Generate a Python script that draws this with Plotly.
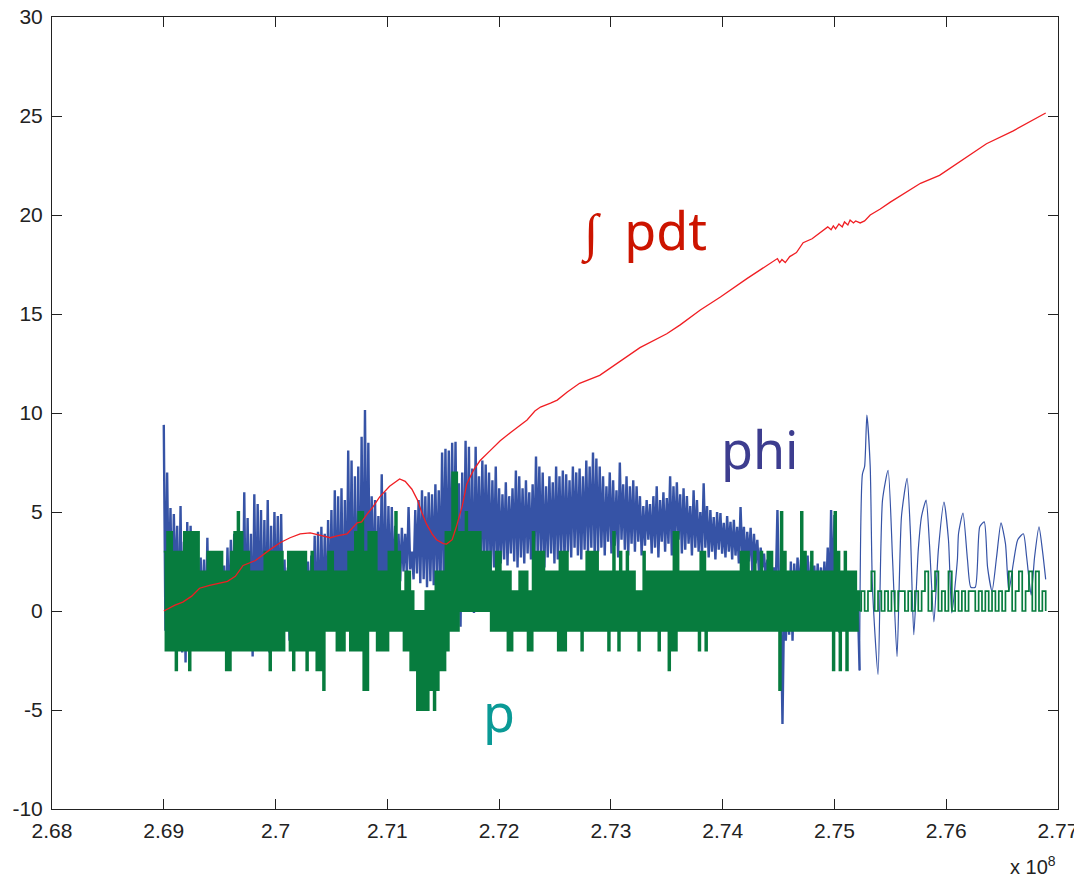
import plotly.graph_objects as go

# ---------------- data (time in units of 1e8) ----------------
T0 = 2.69          # first sample time
DT = 0.0003        # sampling step

# phi: alternating local maxima / minima of the dense part
phi_hi = [9.4, 7.0, 5.2, 4.9, 4.3, 5.3, 3.5, 4.5, 4.3, 2.5,
          2.2, 2.7, 2.6, 3.7, 3.0, 2.4, 3.0, 2.4, 2.3, 3.2,
          3.6, 3.9, 3.3, 3.5, 6.0, 4.7, 3.9, 5.9, 5.4, 5.1,
          4.6, 5.6, 4.3, 5.0, 4.8, 4.9, 2.6, 2.2, 2.4, 2.1,
          2.3, 2.4, 2.6, 2.5, 2.8, 3.8, 4.0, 4.25, 3.9, 4.6,
          5.1, 6.1, 5.8, 6.2, 5.6, 8.1, 7.6, 6.8, 7.3, 8.8,
          10.15, 8.5, 5.8, 5.6, 4.8, 6.9, 6.0, 5.3, 5.25, 4.3,
          3.9, 4.2, 3.9, 5.25, 3.0, 5.1, 5.6, 6.1, 5.8, 6.0,
          5.9, 6.4, 6.1, 8.0, 8.2, 8.1, 8.5, 8.55, 6.45, 7.0,
          8.6, 8.3, 7.2, 8.3, 6.8, 7.6, 7.4, 7.0, 6.6, 7.3,
          6.2, 5.9, 6.5, 5.8, 6.2, 7.1, 6.8, 6.2, 6.6, 6.0,
          6.4, 7.8, 7.3, 7.0, 6.3, 6.8, 6.5, 7.3, 6.8, 7.1,
          6.9, 6.6, 7.3, 7.0, 7.2, 6.8, 7.6, 7.3, 8.0, 7.7,
          7.3, 6.8, 6.3, 7.0, 6.6, 6.1, 7.5, 6.4, 6.8, 6.3,
          6.6, 6.3, 5.8, 5.3, 5.6, 5.4, 5.8, 6.3, 5.6, 6.0,
          5.7, 6.8, 6.3, 6.5, 5.9, 6.2, 5.8, 5.3, 6.1, 5.6,
          5.0, 6.45, 5.3, 5.1, 4.75, 5.0, 4.95, 4.45, 4.8, 4.5,
          4.6, 4.25, 5.25, 4.25, 4.0, 4.2, 3.9, 3.6, 3.2, 2.9,
          2.6, 2.4, 2.2, 5.1, 0.5, 0.5, 1.0, 2.5, 2.4, 2.7,
          2.6, 2.7, 2.8, 2.5, 2.3, 2.4, 2.2, 2.5, 3.2, 5.1,
          4.85, 1.5, 0.8, 0.5, 0.5, 0.9, 0.6, 0.3]
phi_lo = [-1.0, 0.5, -0.5, 1.0, -1.5, -2.1, -2.6, -1.0, 0.0, -0.5,
          -1.1, -0.5, -1.5, -1.5, -0.8, -0.5, -1.0, -1.3, -0.8, -0.5,
          -1.0, -0.7, -1.2, -2.0, -1.5, -1.0, -2.3, -1.2, -1.0, -1.8,
          -1.5, -2.1, -1.0, -0.5, -1.2, -0.8, -1.0, -1.5, -0.8, -1.2,
          -2.0, -1.0, -1.5, -0.8, -1.0, -1.2, -1.5, -0.8, -1.0, -0.5,
          -1.0, -0.8, -1.2, -1.6, -1.0, -0.5, -1.5, -2.0, -1.8, -1.0,
          -0.5, 0.0, 0.3, 0.0, 0.4, -0.8, 0.2, 0.5, 0.8, 1.0,
          1.5, 2.0, 1.8, 2.1, 1.6, 1.9, 1.4, 1.6, 1.2, 1.5,
          1.3, 1.6, 1.0, 1.4, 1.1, 0.9, 1.2, 1.0, -0.8, 0.8,
          1.2, 0.3, -0.1, 1.9, 2.2, 2.0, 2.4, 1.9, 2.2, 2.0,
          2.4, 2.6, 2.3, 2.9, 2.5, 2.2, 2.7, 2.4, 2.9, 2.6,
          2.3, 2.8, 2.5, 2.2, 2.7, 2.9, 2.4, 2.6, 2.8, 2.5,
          3.0, 2.7, 3.2, 2.8, 2.6, 3.1, 2.9, 3.2, 2.7, 3.0,
          3.2, 2.8, 3.5, 2.9, 3.3, 2.7, 3.6, 3.1, 2.8, 3.4,
          3.0, 3.5, 2.8, 3.3, 3.6, 2.9, 3.2, 2.7, 3.5, 3.0,
          3.4, 2.8, 3.3, 3.6, 2.9, 3.1, 3.4, 2.8, 3.2, 3.0,
          2.8, 3.2, 2.7, 3.0, 2.6, 3.1, 2.9, 2.7, 3.0, 2.6,
          2.8, 2.4, 2.7, 2.2, 2.5, 2.0, 2.4, 1.9, 2.2, 1.6,
          1.9, 1.4, 1.2, 1.0, -5.7, -1.5, -1.2, -1.5, 0.5, 0.8,
          0.2, 0.6, 0.3, 0.9, 0.4, 0.7, 0.2, 0.6, 0.4, 0.3,
          -0.5, -1.1, -0.5, -1.0, -0.3, -0.8, -0.5, -3.0]

# phi: slow oscillation at the end
phi_tail_t = [2.7525, 2.7527, 2.7529, 2.7532, 2.7534, 2.7539, 2.7543, 2.7548, 2.7552, 2.7556,
              2.7560, 2.7565, 2.7568, 2.7571, 2.7575, 2.7578, 2.7582, 2.7585, 2.7589, 2.7593,
              2.7598, 2.7602, 2.7605, 2.7610, 2.7611, 2.7615, 2.7619, 2.7622, 2.7626, 2.7630,
              2.7634, 2.7637, 2.7641, 2.7645, 2.7649, 2.7653, 2.7656, 2.7660, 2.7664, 2.7669,
              2.7672, 2.7676, 2.7679, 2.7683, 2.7686, 2.7689]
phi_tail = [6.9, 7.3, 9.9, 7.3, 1.2, -3.2, 5.6, 7.1, 2.6, -2.3,
            4.8, 6.7, 3.9, -1.2, 3.1, 4.8, 5.6, 3.4, -0.55, 3.1,
            5.5, 3.6, -0.1, 2.6, 3.9, 4.95, 2.6, 1.2, 1.2, 4.25,
            4.5, 2.2, 1.0, 2.7, 4.45, 3.4, 1.0, 2.4, 3.6, 3.9,
            2.7, 0.8, 2.7, 4.25, 3.1, 1.6]

# p: integer signal, alternating local maxima / minima (dense part)
p_hi = [3, 4, 4, 3, 3, 3, 4, 4, 4, 4,
        4, 2, 2, 3, 3, 3, 3, 3, 2, 2,
        3, 4, 5, 4, 3, 3, 2, 2, 2, 2,
        3, 3, 3, 3, 3, 3, 2, 3, 3, 3,
        3, 3, 3, 2, 3, 2, 2, 2, 2, 3,
        3, 2, 2, 2, 2, 3, 3, 4, 5, 5,
        3, 4, 4, 4, 2, 2, 2, 3, 3, 5,
        3, 1, 2, 2, 1, 0, 0, 0, 1, 1,
        1, 2, 2, 2, 4, 4, 7, 7, 4, 4,
        5, 4, 4, 4, 4, 3, 3, 3, 2, 3,
        3, 2, 2, 2, 1, 1, 2, 2, 2, 1,
        4, 3, 3, 3, 2, 2, 2, 2, 3, 3,
        3, 2, 2, 2, 2, 2, 3, 3, 3, 3,
        2, 2, 2, 2, 4, 2, 3, 2, 3, 2,
        2, 1, 1, 3, 2, 2, 2, 2, 2, 2,
        2, 2, 4, 4, 2, 2, 2, 2, 2, 2,
        3, 3, 2, 2, 2, 2, 2, 2, 2, 2,
        2, 2, 3, 3, 3, 2, 3, 2, 3, 2,
        3, 3, 2, 2, 5, 3, 2, 2, 2, 2,
        5, 3, 2, 3, 2, 2, 2, 2, 2, 2,
        5, 3, 2, 3, 2, 2, 2, 1]
p_lo = [-2, -2, -2, -3, -2, -2, -2, -3, -2, -2,
        -2, -2, -2, -2, -2, -2, -2, -2, -3, -3,
        -2, -2, -2, -2, -2, -2, -2, -2, -2, -2,
        -2, -3, -2, -2, -2, -2, -1, -2, -3, -2,
        -2, -2, -3, -2, -2, -3, -3, -4, -1, -1,
        -1, -2, -2, -2, -1, -2, -2, -2, -2, -4,
        -4, -1, -1, -2, -2, -2, -2, -1, -1, -1,
        -1, -2, -2, -3, -3, -5, -5, -5, -5, -4,
        -5, -4, -3, -3, -2, -1, -1, -1, 0, 0,
        0, 0, 0, 0, 0, 0, 0, -1, -1, -1,
        -1, -1, -2, -2, -1, -1, -1, -1, -2, -2,
        -1, -1, -1, -1, -1, -1, -1, -2, -2, -2,
        -1, -1, -1, -1, -2, -1, -1, -1, -1, -1,
        -1, -1, -2, -1, -1, -2, -1, -1, -1, -1,
        -1, -2, -1, -1, -1, -1, -1, -2, -1, -1,
        -3, -2, -2, -1, -1, -1, -1, -1, -1, -2,
        -1, -2, -1, -1, -1, -1, -1, -1, -1, -1,
        -1, -1, -1, -1, -1, -1, -1, -1, -1, -1,
        -1, -1, -1, -4, -1, -1, -1, -1, -1, -1,
        -1, -1, -1, -1, -1, -1, -1, -1, -1, -3,
        -1, -3, -1, -3, -1, -1, -1, 0]

# p: square-wave tail (one value per step)
p_tail = [1, 0, 1, 2, 0, 1, 0, 1, 0, 1,
          0, 1, 1, 0, 1, 0, 1, 0, 1, 2,
          0, 1, 2, 0, 1, 0, 2, 0, 1, 0,
          1, 0, 1, 1, 0, 1, 0, 1, 0, 1,
          0, 1, 0, 1, 2, 0, 1, 2, 0, 1,
          2, 0, 2, 0, 1, 0]

# integral of p
int_t = [2.6900, 2.6910, 2.6917, 2.6925, 2.6932, 2.6941, 2.6957, 2.6964, 2.6971, 2.6982,
         2.6995, 2.7004, 2.7013, 2.7022, 2.7031, 2.7038, 2.7042, 2.7049, 2.7055, 2.7064,
         2.7073, 2.7077, 2.7082, 2.7087, 2.7093, 2.7102, 2.7111, 2.7116, 2.7122, 2.7127,
         2.7131, 2.7135, 2.7140, 2.7144, 2.7150, 2.7153, 2.7158, 2.7162, 2.7167, 2.7171,
         2.7177, 2.7183, 2.7192, 2.7201, 2.7210, 2.7219, 2.7225, 2.7232, 2.7237, 2.7246,
         2.7252, 2.7261, 2.7272, 2.7290, 2.7305, 2.7326, 2.7350, 2.7362, 2.7380, 2.7398,
         2.7422, 2.7442, 2.7449, 2.7451, 2.7453, 2.7456, 2.7460, 2.7466, 2.7472, 2.7480,
         2.7490, 2.7494, 2.7497, 2.7499, 2.7501, 2.7504, 2.7507, 2.7509, 2.7512, 2.7514,
         2.7517, 2.7519, 2.7523, 2.7527, 2.7532, 2.7541, 2.7550, 2.7565, 2.7577, 2.7594,
         2.7621, 2.7636, 2.7660, 2.7675, 2.7689]
int_p = [0.0, 0.3, 0.45, 0.75, 1.15, 1.3, 1.5, 1.75, 2.3, 2.55,
         3.1, 3.45, 3.7, 3.9, 3.95, 3.85, 3.8, 3.7, 3.8, 3.9,
         4.45, 4.5, 4.9, 5.25, 5.75, 6.3, 6.67, 6.55, 6.15, 5.6,
         4.95, 4.4, 3.9, 3.6, 3.4, 3.38, 3.6, 4.3, 5.3, 6.4,
         7.1, 7.6, 8.1, 8.6, 9.0, 9.4, 9.65, 10.1, 10.3, 10.5,
         10.65, 11.06, 11.5, 11.9, 12.5, 13.3, 14.0, 14.45, 15.2, 15.86,
         16.8, 17.57, 17.8, 17.6, 17.75, 17.6, 17.9, 18.1, 18.6, 18.8,
         19.25, 19.4, 19.25, 19.45, 19.3, 19.55, 19.4, 19.65, 19.5, 19.75,
         19.6, 19.7, 19.6, 19.7, 20.0, 20.3, 20.65, 21.2, 21.6, 22.0,
         23.0, 23.6, 24.25, 24.7, 25.15]

x_ticks = [2.68, 2.69, 2.70, 2.71, 2.72, 2.73, 2.74, 2.75, 2.76, 2.77]
x_tick_text = ["2.68", "2.69", "2.7", "2.71", "2.72", "2.73", "2.74", "2.75", "2.76", "2.77"]
y_ticks = [-10, -5, 0, 5, 10, 15, 20, 25, 30]
y_tick_text = ["-10", "-5", "0", "5", "10", "15", "20", "25", "30"]

# ---------------- build series ----------------
def interleave(hi, lo):
    t, v = [], []
    for i, (a, b) in enumerate(zip(hi, lo)):
        t += [T0 + DT * i, T0 + DT * i + DT / 2]
        v += [a, b]
    return t, v

phi_t, phi_v = interleave(phi_hi, phi_lo)
p_t, p_v = interleave(p_hi, p_lo)
tail_start = T0 + DT * len(p_hi)
p_tail_t = [tail_start + DT * k for k in range(len(p_tail))]

BLUE = "#3653a6"
GREEN = "#077c3e"
RED = "#f01e23"

fig = go.Figure()
fig.add_trace(go.Scatter(x=phi_t, y=phi_v, mode="lines",
                         line=dict(color=BLUE, width=2.4), hoverinfo="skip"))
fig.add_trace(go.Scatter(x=[phi_t[-1]] + phi_tail_t, y=[phi_v[-1]] + phi_tail, mode="lines",
                         line=dict(color=BLUE, width=1.2, shape="spline", smoothing=0.6),
                         hoverinfo="skip"))
fig.add_trace(go.Scatter(x=p_t, y=p_v, mode="lines",
                         line=dict(color=GREEN, width=1.8, shape="hv"), hoverinfo="skip"))
fig.add_trace(go.Scatter(x=[p_t[-1]] + p_tail_t, y=[p_v[-1]] + p_tail, mode="lines",
                         line=dict(color=GREEN, width=1.7, shape="hv"), hoverinfo="skip"))
fig.add_trace(go.Scatter(x=int_t, y=int_p, mode="lines",
                         line=dict(color=RED, width=1.3), hoverinfo="skip"))

LABEL_FONT = "Noto Sans"
fig.add_annotation(x=2.7330, y=19.25, text="\u222b\u2002pdt", showarrow=False,
                   font=dict(family=LABEL_FONT, size=52, color="#cc1400"))
fig.add_annotation(x=2.7433, y=8.2, text="phi", showarrow=False,
                   font=dict(family=LABEL_FONT, size=52, color="#3d3d8f"))
fig.add_annotation(x=2.7200, y=-5.1, text="p", showarrow=False,
                   font=dict(family=LABEL_FONT, size=52, color="#0a9a96"))
fig.add_annotation(x=1.0, y=-0.071, xref="paper", yref="paper",
                   xanchor="right", yanchor="middle", showarrow=False,
                   text="x 10<sup>8</sup>",
                   font=dict(family="Liberation Sans", size=20, color="#222222"))

axis_common = dict(showline=True, linecolor="#222222", linewidth=1, mirror="ticks",
                   ticks="inside", ticklen=10, tickcolor="#222222", tickwidth=1,
                   showgrid=False, zeroline=False, automargin=False,
                   ticklabeloverflow="allow",
                   tickfont=dict(family="Liberation Sans", size=21, color="#222222"))

fig.update_xaxes(range=[2.68, 2.77], tickvals=x_ticks, ticktext=x_tick_text,
                 ticklabelstandoff=3, **axis_common)
fig.update_yaxes(range=[-10, 30], tickvals=y_ticks, ticktext=y_tick_text,
                 ticklabelstandoff=4, **axis_common)

# the page body adds an 8 px offset; margins compensate so the plot box sits at
# x 52..1058, y 17..809 in the window
fig.update_layout(width=1082, height=879, showlegend=False,
                  paper_bgcolor="white", plot_bgcolor="white",
                  margin=dict(l=44, r=32, t=9, b=78))

fig.write_html("out.html")
